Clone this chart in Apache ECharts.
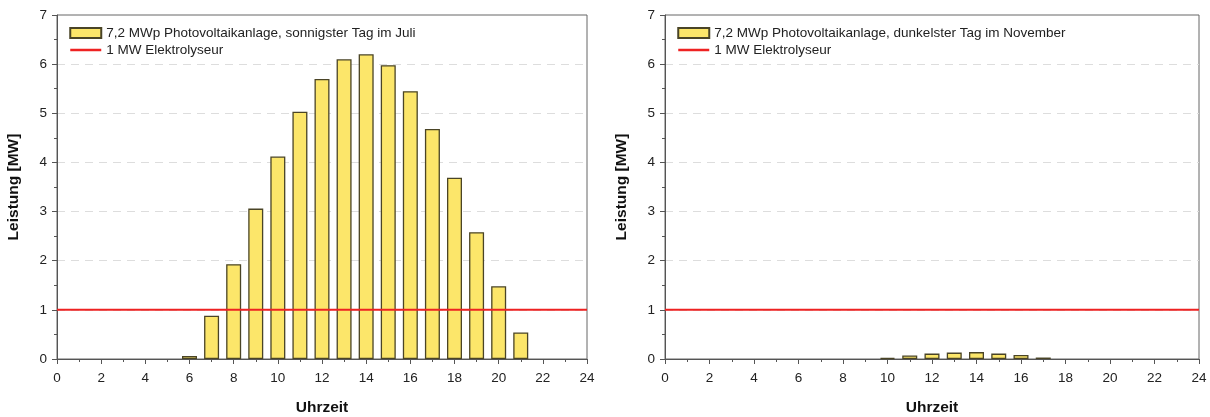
<!DOCTYPE html>
<html>
<head>
<meta charset="utf-8">
<script src="https://cdn.jsdelivr.net/npm/echarts@6/dist/echarts.min.js"></script>
<style>
  html, body { margin: 0; padding: 0; background: #fff; }
  #chart { width: 1210px; height: 417px; }
</style>
</head>
<body>
<div id="chart"></div>
<script>
// Stunden (Uhrzeit) und Leistung in MW
const hoursJuli = [6, 7, 8, 9, 10, 11, 12, 13, 14, 15, 16, 17, 18, 19, 20, 21]
const pvJuli = [0.06, 0.88, 1.93, 3.06, 4.12, 5.03, 5.70, 6.10, 6.20, 5.98, 5.45, 4.68, 3.69, 2.58, 1.48, 0.54]
const hoursNov = [10, 11, 12, 13, 14, 15, 16, 17]
const pvNov = [0.02, 0.07, 0.11, 0.13, 0.14, 0.11, 0.08, 0.03]
const elektrolyseur = [[0, 1], [24, 1]]

const nameJuli = '7,2 MWp Photovoltaikanlage, sonnigster Tag im Juli'
const nameNov = '7,2 MWp Photovoltaikanlage, dunkelster Tag im November'
const nameEly = '1 MW Elektrolyseur'

const font = 'Liberation Sans, Arial, sans-serif'
const axisColor = '#555'

const pair = (xs, ys) => xs.map((x, i) => [x, ys[i]])

const xAxisCfg = (gridIndex) => ({
  type: 'value',
  gridIndex,
  min: 0,
  max: 24,
  interval: 2,
  name: 'Uhrzeit',
  nameLocation: 'middle',
  nameGap: 41,
  nameTextStyle: { fontFamily: font, fontSize: 15.5, fontWeight: 'bold', color: '#111' },
  axisLine: { show: true, lineStyle: { color: axisColor, width: 1 } },
  axisTick: { show: true, length: 5, lineStyle: { color: axisColor } },
  minorTick: { show: true, splitNumber: 2, length: 3, lineStyle: { color: axisColor } },
  axisLabel: { fontFamily: font, fontSize: 13.5, color: '#222', margin: 12 },
  splitLine: { show: false }
})

const yAxisCfg = (gridIndex) => ({
  type: 'value',
  gridIndex,
  min: 0,
  max: 7,
  interval: 1,
  name: 'Leistung [MW]',
  nameLocation: 'middle',
  nameGap: 35,
  nameTextStyle: { fontFamily: font, fontSize: 15.5, fontWeight: 'bold', color: '#111' },
  axisLine: { show: true, lineStyle: { color: axisColor, width: 1 } },
  axisTick: { show: true, length: 5, lineStyle: { color: axisColor } },
  minorTick: { show: true, splitNumber: 2, length: 3, lineStyle: { color: axisColor } },
  axisLabel: { fontFamily: font, fontSize: 13.5, color: '#222', margin: 10 },
  splitLine: {
    show: true,
    showMaxLine: false,
    lineStyle: { color: '#ddd', type: [8, 6], width: 1 }
  }
})

const barStyle = { color: '#FCE66A', borderColor: '#4a4426', borderWidth: 1.3 }

const legendCfg = (left, barName) => ({
  left,
  top: 25,
  padding: 0,
  orient: 'vertical',
  itemWidth: 31,
  itemHeight: 10,
  itemGap: 1,
  data: [
    { name: barName, icon: 'rect' },
    { name: nameEly, itemStyle: { opacity: 0, borderWidth: 0 }, lineStyle: { width: 2.5 } }
  ],
  textStyle: { fontFamily: font, fontSize: 13.5, lineHeight: 16, color: '#222' }
})

const chart = echarts.init(document.getElementById('chart'))

chart.setOption({
  animation: false,
  grid: [
    { left: 57, right: 623, top: 15, bottom: 58, show: true, borderColor: '#666', borderWidth: 1, outerBoundsMode: 'none' },
    { left: 665, right: 11, top: 15, bottom: 58, show: true, borderColor: '#666', borderWidth: 1, outerBoundsMode: 'none' }
  ],
  legend: [legendCfg(69, nameJuli), legendCfg(677, nameNov)],
  xAxis: [xAxisCfg(0), xAxisCfg(1)],
  yAxis: [yAxisCfg(0), yAxisCfg(1)],
  series: [
    {
      name: nameJuli,
      type: 'bar',
      xAxisIndex: 0,
      yAxisIndex: 0,
      barWidth: 15,
      itemStyle: barStyle,
      data: pair(hoursJuli, pvJuli)
    },
    {
      name: nameEly,
      type: 'line',
      xAxisIndex: 0,
      yAxisIndex: 0,
      symbol: 'none',
      z: 5,
      color: '#ee2222',
      lineStyle: { color: '#ee2222', width: 2 },
      data: elektrolyseur
    },
    {
      name: nameNov,
      type: 'bar',
      xAxisIndex: 1,
      yAxisIndex: 1,
      barWidth: 15,
      itemStyle: barStyle,
      data: pair(hoursNov, pvNov)
    },
    {
      name: nameEly,
      type: 'line',
      xAxisIndex: 1,
      yAxisIndex: 1,
      symbol: 'none',
      z: 5,
      color: '#ee2222',
      lineStyle: { color: '#ee2222', width: 2 },
      data: elektrolyseur
    }
  ]
})
</script>
</body>
</html>
